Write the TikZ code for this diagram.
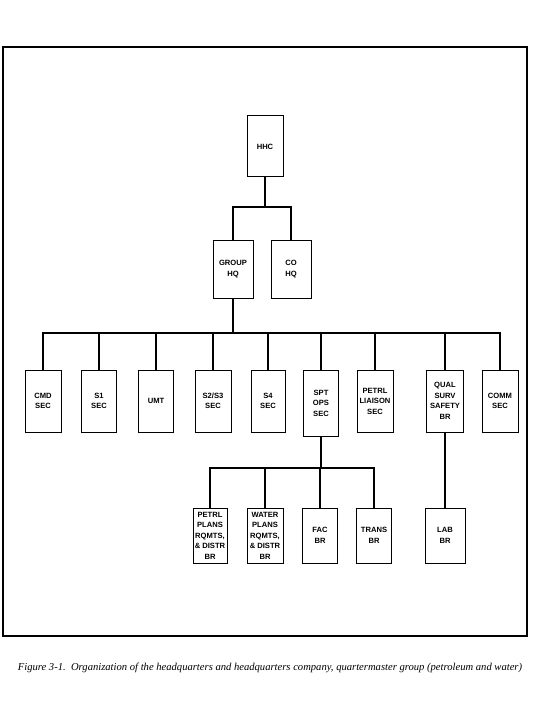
\documentclass[tikz,border=0pt]{standalone}
\usepackage{fontspec}
\setmainfont{Liberation Serif}
\newfontfamily\boxfont{Liberation Sans}
\usetikzlibrary{positioning}

\tikzset{
  unit/.style={draw, line width=1pt, align=center, inner sep=0pt,
    font=\boxfont\bfseries\fontsize{7.6}{10.5}\selectfont},
  link/.style={line width=1.8pt},
}

\begin{document}
\begin{tikzpicture}[x=1pt,y=-1pt]
  \useasboundingbox (0,0) rectangle (550,703);
  \draw[line width=1.8pt] (3,47) rectangle (527,636);

  % top
  \node[unit, minimum width=36, minimum height=61] (hhc) at (265,146.5) {HHC};
  \node[unit, minimum width=40, minimum height=58] (grouphq) at (233,269) {GROUP\\HQ};
  \node[unit, minimum width=40, minimum height=58] (cohq) at (291,269) {CO\\HQ};

  % sections
  \node[unit, minimum width=36, minimum height=62] (cmd) at (43,401) {CMD\\SEC};
  \node[unit, minimum width=35, minimum height=62] (sone) at (99,401) {S1\\SEC};
  \node[unit, minimum width=35, minimum height=62] (umt) at (156,401) {UMT};
  \node[unit, minimum width=36, minimum height=62] (stwo) at (213,401) {S2/S3\\SEC};
  \node[unit, minimum width=34, minimum height=62] (sfour) at (268,401) {S4\\SEC};
  \node[unit, minimum width=35, minimum height=66] (sptops) at (321,403) {SPT\\OPS\\SEC};
  \node[unit, minimum width=36, minimum height=62] (liaison) at (375,401) {PETRL\\LIAISON\\SEC};
  \node[unit, minimum width=37, minimum height=62] (qual) at (445,401) {QUAL\\SURV\\SAFETY\\BR};
  \node[unit, minimum width=36, minimum height=62] (comm) at (500,401) {COMM\\SEC};

  % branches
  \node[unit, minimum width=34, minimum height=55] (petrl) at (210,535.5) {PETRL\\PLANS\\RQMTS,\\\& DISTR\\BR};
  \node[unit, minimum width=36, minimum height=55] (water) at (265,535.5) {WATER\\PLANS\\RQMTS,\\\& DISTR\\BR};
  \node[unit, minimum width=35, minimum height=55] (fac) at (320,535.5) {FAC\\BR};
  \node[unit, minimum width=35, minimum height=55] (trans) at (374,535.5) {TRANS\\BR};
  \node[unit, minimum width=40, minimum height=55] (lab) at (445,535.5) {LAB\\BR};

  % lines
  \coordinate (hqbus) at (hhc.south |- 0,207);
  \draw[link] (hhc.south) -- (hqbus);
  \draw[link] (grouphq.north) |- (hqbus) -| (cohq.north);

  \coordinate (secbus) at (grouphq.south |- 0,333);
  \draw[link] (grouphq.south) -- (secbus);
  \foreach \n in {cmd,sone,umt,stwo,sfour,sptops,liaison,qual,comm}
    \draw[link] (secbus) -| (\n.north);

  \coordinate (brbus) at (sptops.south |- 0,468);
  \draw[link] (sptops.south) -- (brbus);
  \foreach \n in {petrl,water,fac,trans}
    \draw[link] (brbus) -| (\n.north);
  \draw[link] (qual.south) -- (lab.north);

  \node[font=\itshape\fontsize{10.6}{12}\selectfont] (caption) at (270,668)
    {Figure 3-1.\ \ Organization of the headquarters and headquarters company, quartermaster group (petroleum and water)};
\end{tikzpicture}
\end{document}
